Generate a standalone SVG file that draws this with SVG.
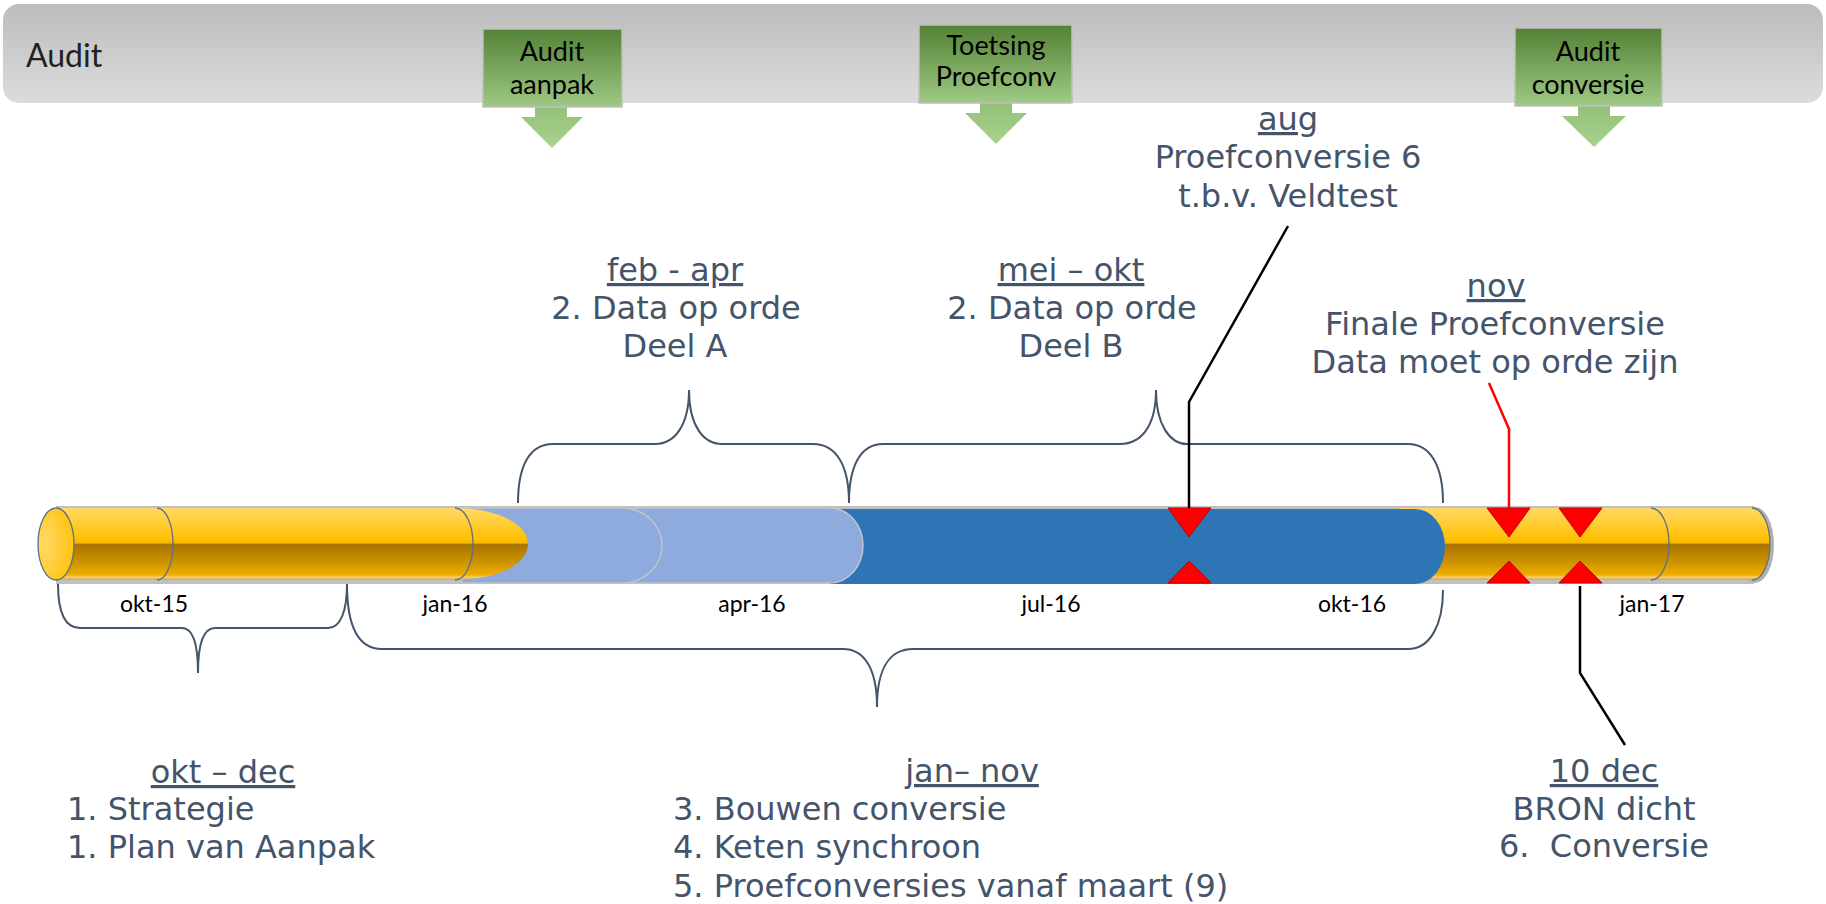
<svg xmlns="http://www.w3.org/2000/svg" width="1826" height="904" viewBox="0 0 1826 904">
  <defs>
    <linearGradient id="barGrad" x1="0" y1="0" x2="0" y2="1">
      <stop offset="0" stop-color="#bcbcbc"/>
      <stop offset="1" stop-color="#dcdcdc"/>
    </linearGradient>
    <linearGradient id="greenGrad" x1="0" y1="0" x2="0" y2="1">
      <stop offset="0" stop-color="#538135"/>
      <stop offset="1" stop-color="#9fc984"/>
    </linearGradient>
    <linearGradient id="arrowGrad" x1="0" y1="0" x2="0" y2="1">
      <stop offset="0" stop-color="#93c177"/>
      <stop offset="1" stop-color="#a9d18e"/>
    </linearGradient>
    <linearGradient id="goldGrad" x1="0" y1="0" x2="0" y2="1">
      <stop offset="0" stop-color="#ffd966"/>
      <stop offset="0.44" stop-color="#ffc000"/>
      <stop offset="0.49" stop-color="#f5b400"/>
      <stop offset="0.5" stop-color="#a87300"/>
      <stop offset="0.75" stop-color="#cc9300"/>
      <stop offset="0.93" stop-color="#efae00"/>
      <stop offset="0.96" stop-color="#f8d070"/>
      <stop offset="1" stop-color="#d0a850"/>
    </linearGradient>
    <radialGradient id="capGrad" cx="0.2" cy="0.5" r="0.9">
      <stop offset="0" stop-color="#ffd966"/>
      <stop offset="1" stop-color="#ffc000"/>
    </radialGradient>
    <style>
      .lbl { font-family: "DejaVu Sans", Verdana, sans-serif; font-size: 32px; fill: #44546a; }
      .mid { text-anchor: middle; }
      .ul { text-decoration: underline; }
      .box { fill: url(#greenGrad); stroke: #bfbfbf; stroke-width: 1.5; }
      .arw { fill: url(#arrowGrad); }
      .boxtxt { font-family: Lato, "Open Sans", sans-serif; font-size: 27px; fill: #000; text-anchor: middle; }
      .axis { font-family: Lato, "Open Sans", sans-serif; font-size: 23px; fill: #000; text-anchor: middle; }
      .brace { fill: none; stroke: #44546a; stroke-width: 2; }
      .div { fill: none; stroke: #5f6f86; stroke-width: 1.3; }
      .gold { fill: url(#goldGrad); }
      .lblue { fill: #8faadc; stroke: #c4c4c4; stroke-width: 1.5; }
      .dblue { fill: #2e75b6; }
      .tri { fill: #ff0000; stroke: #c00000; stroke-width: 1; }
    </style>
  </defs>

  <!-- Audit lane -->
  <g id="audit-lane">
    <rect x="3" y="4" width="1820" height="99" rx="16" fill="url(#barGrad)"/>
    <text x="26" y="67" font-family="Lato, 'Open Sans', sans-serif" font-size="32" fill="#222">Audit</text>
  </g>

  <g id="audit-aanpak">
    <polygon class="arw" points="535,106 567,106 567,117 583,117 552,148 521,117 535,117"/>
    <rect class="box" x="483" y="29" width="139" height="78"/>
    <text class="boxtxt" x="552" y="61">Audit</text>
    <text class="boxtxt" x="552" y="94">aanpak</text>
  </g>

  <g id="toetsing-proefconv">
    <polygon class="arw" points="980,102 1012,102 1012,113 1027,113 996,144 965,113 980,113"/>
    <rect class="box" x="919" y="25" width="153" height="78"/>
    <text class="boxtxt" x="996" y="55" font-size="22">Toetsing</text>
    <text class="boxtxt" x="996" y="86" font-size="22">Proefconv</text>
  </g>

  <g id="audit-conversie">
    <polygon class="arw" points="1578,105 1610,105 1610,116 1626,116 1594,147 1562,116 1578,116"/>
    <rect class="box" x="1515" y="28" width="147" height="78"/>
    <text class="boxtxt" x="1588" y="61">Audit</text>
    <text class="boxtxt" x="1588" y="94">conversie</text>
  </g>

  <!-- Timeline tube -->
  <g id="timeline">
    <rect x="56" y="506" width="1698" height="78" fill="#c0c0c0"/>
    <ellipse cx="1755" cy="545" rx="19" ry="38" fill="#b0b0b0"/>
    <path class="gold" d="M1400,508 H1752 A18,36 0 0 1 1752,580 H1400 Z"/>
    <path class="div" d="M1651,508 A18,36 0 0 1 1651,580"/>
    <path class="div" d="M1752,508 A18,36 0 0 1 1752,580"/>
    <path class="dblue" d="M830,509 H1415 A30,37.5 0 0 1 1415,584 H830 Z"/>
    <path class="lblue" d="M620,508 H830 A33,37.5 0 0 1 830,583 H620 Z"/>
    <path class="lblue" d="M462,508 H622 A40,37.5 0 0 1 622,583 H462 Z"/>
    <path class="gold" d="M56,508 H455 C497,508 528,524 528,544 C528,564 497,580 455,580 H56 Z"/>
    <path class="div" d="M157,508 A16,36 0 0 1 157,580"/>
    <path class="div" d="M455,508 A18,36 0 0 1 455,580"/>
    <ellipse cx="56" cy="544" rx="18" ry="36" fill="url(#capGrad)" stroke="#5f6f86" stroke-width="1.3"/>
    <text class="axis" x="154" y="612">okt-15</text>
    <text class="axis" x="455" y="612">jan-16</text>
    <text class="axis" x="752" y="612">apr-16</text>
    <text class="axis" x="1051" y="612">jul-16</text>
    <text class="axis" x="1352" y="612">okt-16</text>
    <text class="axis" x="1652" y="612">jan-17</text>
  </g>

  <!-- Milestone markers -->
  <g id="markers">
    <polygon class="tri" points="1168,508 1211,508 1189,537"/>
    <polygon class="tri" points="1168,583 1211,583 1189,561"/>
    <polygon class="tri" points="1487,508 1530,508 1509,537"/>
    <polygon class="tri" points="1487,583 1530,583 1509,561"/>
    <polygon class="tri" points="1559,508 1602,508 1580,537"/>
    <polygon class="tri" points="1559,583 1602,583 1580,561"/>
  </g>

  <!-- Connectors and braces -->
  <g id="connectors">
    <path class="brace" d="M58,584 C58,610 64,628 80,628 L182,628 C192,628 198,642 198,673 C198,642 204,628 215,628 L328,628 C341,628 347,610 347,584"/>
    <path class="brace" d="M347,584 C347,625 358,649 382,649 L843,649 C862,649 877,665 877,707 C877,665 892,649 913,649 L1408,649 C1430,649 1443,625 1443,590"/>
    <path class="brace" d="M518,503 C518,465 530,444 553,444 L655,444 C675,444 689,425 689,390 C689,425 703,444 722,444 L813,444 C836,444 849,465 849,503"/>
    <path class="brace" d="M849,503 C849,465 861,444 883,444 L1120,444 C1142,444 1156,425 1156,390 C1156,425 1170,444 1187,444 L1408,444 C1430,444 1443,465 1443,503"/>
    <polyline points="1288,226 1189,402 1189,508" fill="none" stroke="#000" stroke-width="2.5"/>
    <polyline points="1489,383 1509,429 1509,508" fill="none" stroke="#ff0000" stroke-width="2.5"/>
    <polyline points="1580,586 1580,673 1625,745" fill="none" stroke="#000" stroke-width="2.5"/>
  </g>

  <!-- Labels -->
  <g id="label-aug">
    <text class="lbl mid ul" x="1288" y="130">aug</text>
    <text class="lbl mid" x="1288" y="168">Proefconversie 6</text>
    <text class="lbl mid" x="1288" y="207">t.b.v. Veldtest</text>
  </g>
  <g id="label-feb-apr">
    <text class="lbl mid ul" x="675" y="281">feb - apr</text>
    <text class="lbl mid" x="676" y="319">2. Data op orde</text>
    <text class="lbl mid" x="675" y="357">Deel A</text>
  </g>
  <g id="label-mei-okt">
    <text class="lbl mid ul" x="1071" y="281">mei – okt</text>
    <text class="lbl mid" x="1072" y="319">2. Data op orde</text>
    <text class="lbl mid" x="1071" y="357">Deel B</text>
  </g>
  <g id="label-nov">
    <text class="lbl mid ul" x="1496" y="297">nov</text>
    <text class="lbl mid" x="1495" y="335">Finale Proefconversie</text>
    <text class="lbl mid" x="1495" y="373">Data moet op orde zijn</text>
  </g>
  <g id="label-okt-dec">
    <text class="lbl mid ul" x="223" y="783">okt – dec</text>
    <text class="lbl" x="67" y="820">1. Strategie</text>
    <text class="lbl" x="67" y="858">1. Plan van Aanpak</text>
  </g>
  <g id="label-jan-nov">
    <text class="lbl mid ul" x="972" y="782">jan– nov</text>
    <text class="lbl" x="673" y="820">3. Bouwen conversie</text>
    <text class="lbl" x="673" y="858">4. Keten synchroon</text>
    <text class="lbl" x="673" y="897">5. Proefconversies vanaf maart (9)</text>
  </g>
  <g id="label-10-dec">
    <text class="lbl mid ul" x="1604" y="782">10 dec</text>
    <text class="lbl mid" x="1604" y="820">BRON dicht</text>
    <text class="lbl mid" x="1604" y="857" style="white-space:pre">6.  Conversie</text>
  </g>
</svg>
